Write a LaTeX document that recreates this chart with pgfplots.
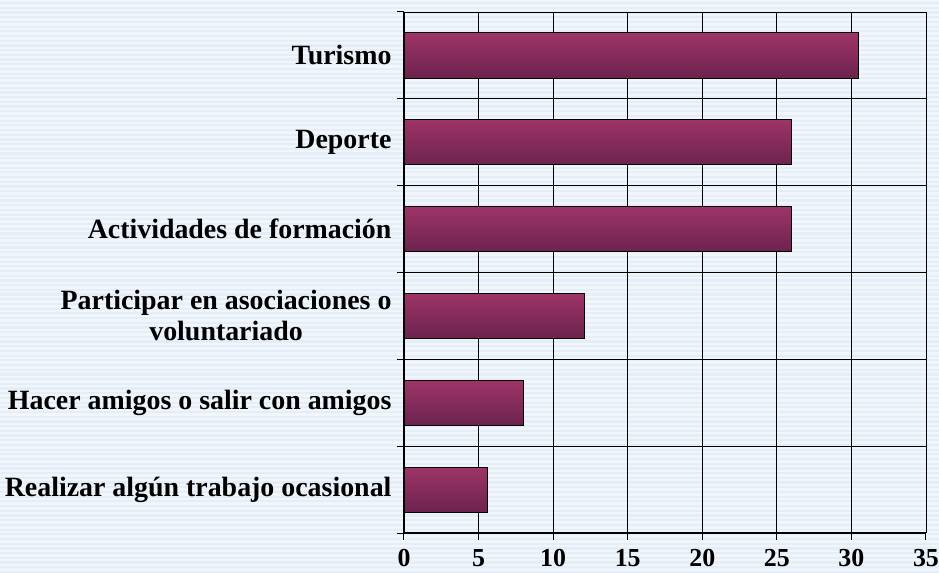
\documentclass[border=0pt]{standalone}
\usepackage{pgfplots}
\pgfplotsset{compat=1.18}
\usepackage{fontspec}
\setmainfont{Liberation Serif}
\definecolor{bgA}{RGB}{241,246,251}
\definecolor{bgB}{RGB}{228,237,248}
\definecolor{barTop}{RGB}{158,52,104}
\definecolor{barBot}{RGB}{108,35,78}
\begin{document}
\begin{tikzpicture}
\path[use as bounding box] (-404bp,-40bp) rectangle (535bp,533bp);
\fill[bgA] (-404bp,-40bp) rectangle (535bp,533bp);
\foreach \i in {0,...,122} {
  \fill[bgB] (-404bp,-40bp+\i*4.7bp) rectangle (535bp,-40bp+\i*4.7bp+2.2bp);
}
\begin{axis}[
  scale only axis,
  width=522bp, height=521bp,
  xmin=0, xmax=35,
  ymin=-0.5, ymax=5.5,
  xtick={0,5,...,35},
  ytick={-0.5,0.5,...,5.5},
  yticklabels={},
  extra y ticks={0,1,2,3,4,5},
  extra y tick labels={Realizar algún trabajo ocasional,Hacer amigos o salir con amigos,{Participar en asociaciones o\\voluntariado},Actividades de formación,Deporte,Turismo},
  extra y tick style={grid=none, tick style={draw=none}},
  yticklabel style={align=center, font=\fontsize{28}{31}\selectfont\bfseries, xshift=-2bp},
  xticklabel style={font=\fontsize{26}{28}\selectfont\bfseries, yshift=-6bp},
  /pgf/number format/assume math mode=true,
  tick align=outside,
  major tick length=7bp,
  tick style={black, line width=1pt},
  xmajorgrids, ymajorgrids,
  grid style={black, line width=0.9pt},
  axis line style={black, line width=1.3pt},
  axis x line*=bottom, axis y line*=left,
  clip=false,
  bar width=0.52,
  xbar, bar shift=0pt,
]
\draw[black, line width=0.9pt] (axis cs:0,5.5) -- (axis cs:35,5.5) -- (axis cs:35,-0.5);
\addplot[xbar, bar shift=0pt, draw=black, line width=0.9pt, top color=barTop, bottom color=barBot] coordinates {(30.45,5)};
\addplot[xbar, bar shift=0pt, draw=black, line width=0.9pt, top color=barTop, bottom color=barBot] coordinates {(26.0,4)};
\addplot[xbar, bar shift=0pt, draw=black, line width=0.9pt, top color=barTop, bottom color=barBot] coordinates {(26.0,3)};
\addplot[xbar, bar shift=0pt, draw=black, line width=0.9pt, top color=barTop, bottom color=barBot] coordinates {(12.1,2)};
\addplot[xbar, bar shift=0pt, draw=black, line width=0.9pt, top color=barTop, bottom color=barBot] coordinates {(8.0,1)};
\addplot[xbar, bar shift=0pt, draw=black, line width=0.9pt, top color=barTop, bottom color=barBot] coordinates {(5.6,0)};
\end{axis}
\end{tikzpicture}
\end{document}
